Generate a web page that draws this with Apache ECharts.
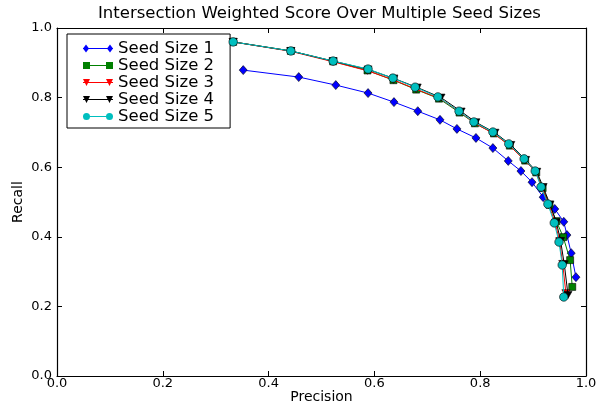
<!DOCTYPE html>
<html>
<head>
<meta charset="utf-8">
<script src="https://cdn.jsdelivr.net/npm/echarts@6/dist/echarts.min.js"></script>
<style>html,body{margin:0;padding:0;background:#fff}#c{width:600px;height:405px}</style>
</head>
<body>
<div id="c"></div>
<script>
var seriesNames = ['Seed Size 1','Seed Size 2','Seed Size 3','Seed Size 4','Seed Size 5'];
var xTicks = [0.0, 0.2, 0.4, 0.6, 0.8, 1.0];
var yTicks = [0.0, 0.2, 0.4, 0.6, 0.8, 1.0];

var precision1 = [0.352,0.457,0.527,0.588,0.637,0.682,0.724,0.756,0.792,0.824,0.853,0.877,0.898,0.919,0.941,0.958,0.964,0.972,0.981];
var recall1    = [0.879,0.859,0.836,0.813,0.787,0.761,0.736,0.710,0.684,0.655,0.618,0.589,0.557,0.514,0.480,0.443,0.405,0.353,0.284];

var precision2 = [0.333,0.442,0.522,0.587,0.636,0.679,0.722,0.761,0.790,0.826,0.856,0.885,0.906,0.918,0.931,0.944,0.957,0.970,0.974];
var recall2    = [0.960,0.934,0.904,0.878,0.850,0.823,0.797,0.757,0.726,0.697,0.662,0.619,0.585,0.540,0.492,0.445,0.399,0.333,0.256];

var precision3 = [0.333,0.442,0.522,0.587,0.636,0.679,0.723,0.762,0.789,0.825,0.855,0.884,0.905,0.917,0.930,0.942,0.950,0.956,0.962];
var recall3    = [0.960,0.933,0.903,0.877,0.851,0.824,0.798,0.758,0.727,0.697,0.663,0.620,0.586,0.541,0.490,0.440,0.387,0.322,0.238];

var precision4 = [0.333,0.442,0.522,0.588,0.637,0.681,0.726,0.764,0.792,0.828,0.858,0.886,0.907,0.919,0.932,0.944,0.952,0.959,0.966];
var recall4    = [0.960,0.934,0.905,0.881,0.855,0.829,0.800,0.760,0.729,0.699,0.664,0.621,0.587,0.543,0.493,0.442,0.388,0.321,0.233];

var precision5 = [0.333,0.442,0.522,0.588,0.635,0.677,0.720,0.760,0.788,0.824,0.854,0.883,0.904,0.915,0.928,0.940,0.949,0.955,0.958];
var recall5    = [0.960,0.934,0.905,0.882,0.856,0.830,0.802,0.761,0.730,0.701,0.667,0.624,0.589,0.543,0.494,0.440,0.385,0.319,0.227];

var colors = ['#0000ff','#008000','#ff0000','#000000','#00bfbf'];
var symbols = ['diamond','rect','path://M0,0 L10,0 L5,9 Z','path://M0,0 L10,0 L5,9 Z','circle'];
var symbolSizes = [[8,9],7,[8,7],[8,7],8.5];
var legendIcons = [
  'path://M0,3.5 L30,3.5 L30,4.5 L0,4.5 Z M3,0 L6,4 L3,8 L0,4 Z M27,0 L30,4 L27,8 L24,4 Z',
  'path://M0,3.5 L30,3.5 L30,4.5 L0,4.5 Z M0,0.5 L7,0.5 L7,7.5 L0,7.5 Z M23,0.5 L30,0.5 L30,7.5 L23,7.5 Z',
  'path://M0,3.5 L30,3.5 L30,4.5 L0,4.5 Z M0,0.5 L7,0.5 L3.5,7.5 Z M23,0.5 L30,0.5 L26.5,7.5 Z',
  'path://M0,3.5 L30,3.5 L30,4.5 L0,4.5 Z M0,0.5 L7,0.5 L3.5,7.5 Z M23,0.5 L30,0.5 L26.5,7.5 Z',
  'path://M0,3.5 L30,3.5 L30,4.5 L0,4.5 Z M0,4 A3.5,3.5 0 1 1 7,4 A3.5,3.5 0 1 1 0,4 Z M23,4 A3.5,3.5 0 1 1 30,4 A3.5,3.5 0 1 1 23,4 Z'
];

function zip(a, b) { return a.map(function (v, i) { return [v, b[i]]; }); }
var allP = [precision1, precision2, precision3, precision4, precision5];
var allR = [recall1, recall2, recall3, recall4, recall5];

var FONT = 'DejaVu Sans';
var chart = echarts.init(document.getElementById('c'), null, {renderer: 'canvas'});

var series = seriesNames.map(function (name, i) {
  return {
    name: name,
    type: 'line',
    data: zip(allP[i], allR[i]),
    xAxisIndex: 0, yAxisIndex: 0,
    symbol: symbols[i],
    symbolSize: symbolSizes[i],
    showAllSymbol: true,
    lineStyle: {color: colors[i], width: 1},
    itemStyle: {color: colors[i], borderColor: '#000', borderWidth: 0.6},
    emphasis: {disabled: true},
    animation: false,
    z: 2 + i
  };
});

function axisCommon(extra) {
  var base = {
    type: 'value', min: 0, max: 1, interval: 0.2,
    axisLine: {show: true, onZero: false, lineStyle: {color: '#000', width: 1.2}},
    axisTick: {show: true, inside: true, length: 5, lineStyle: {color: '#000', width: 1}},
    splitLine: {show: false},
    axisLabel: {show: false}
  };
  for (var k in extra) base[k] = extra[k];
  return base;
}

chart.setOption({
  animation: false,
  backgroundColor: '#fff',
  textStyle: {fontFamily: FONT},
  title: {
    text: 'Intersection Weighted Score Over Multiple Seed Sizes',
    left: 98, top: 5, padding: 0,
    textStyle: {fontFamily: FONT, fontSize: 16.5, fontWeight: 'normal', color: '#000'}
  },
  grid: {left: 57, right: 14, top: 28, bottom: 29, containLabel: false, outerBoundsMode: 'none'},
  legend: {
    orient: 'vertical',
    left: 67, top: 34,
    padding: [6, 16, 3, 16],
    backgroundColor: '#fff',
    borderColor: '#000', borderWidth: 1,
    itemWidth: 30, itemHeight: 8, itemGap: 0, itemTextGap: 8,
    itemStyle: {borderWidth: 0},
    textStyle: {fontFamily: FONT, fontSize: 16.5, color: '#000', lineHeight: 16},
    data: seriesNames.map(function (n, i) { return {name: n, icon: legendIcons[i]}; }),
    selectedMode: false
  },
  xAxis: [
    axisCommon({
      position: 'bottom',
      name: 'Precision', nameLocation: 'middle', nameGap: 14, nameMoveOverlap: false,
      nameTextStyle: {fontFamily: FONT, fontSize: 14, color: '#000'},
      axisLabel: {show: true, margin: 1, fontFamily: FONT, fontSize: 13, color: '#000',
        formatter: function (v) { return v.toFixed(1); }}
    }),
    axisCommon({position: 'top'})
  ],
  yAxis: [
    axisCommon({
      position: 'left',
      name: 'Recall', nameLocation: 'middle', nameGap: 32, nameMoveOverlap: false,
      nameTextStyle: {fontFamily: FONT, fontSize: 14, color: '#000'},
      axisLabel: {show: true, margin: 5, fontFamily: FONT, fontSize: 13, color: '#000',
        formatter: function (v) { return v.toFixed(1); }}
    }),
    axisCommon({position: 'right'})
  ],
  series: series
});
</script>
</body>
</html>
